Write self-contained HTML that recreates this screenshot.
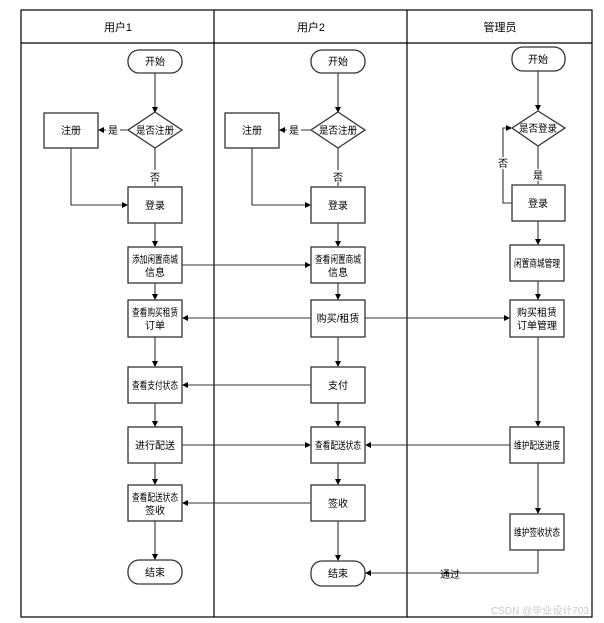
<!DOCTYPE html>
<html><head><meta charset="utf-8"><style>
html,body{margin:0;padding:0;background:#fff;width:604px;height:623px;overflow:hidden}
svg text{font-family:"Liberation Sans","Noto Sans CJK SC",sans-serif;font-size:10px;fill:#000}
</style></head><body>
<svg width="604" height="623" viewBox="0 0 604 623" xmlns="http://www.w3.org/2000/svg">
<defs><marker id="a" markerWidth="6" markerHeight="6" refX="5" refY="3" orient="auto" markerUnits="userSpaceOnUse"><path d="M0,0 L6,3 L0,6 z" fill="#000"/></marker></defs>
<rect x="21" y="10" width="571" height="607" fill="none" stroke="#000" stroke-width="1.2"/>
<line x1="21" y1="43" x2="592" y2="43" stroke="#000" stroke-width="1.2"/>
<line x1="214" y1="10" x2="214" y2="617" stroke="#000" stroke-width="1.2"/>
<line x1="407" y1="10" x2="407" y2="617" stroke="#000" stroke-width="1.2"/>
<g text-anchor="middle"><text x="118" y="31" style="font-size:11px">用户1</text><text x="311" y="31" style="font-size:11px">用户2</text><text x="500" y="31" style="font-size:11px">管理员</text></g>

<g fill="none" stroke="#333" stroke-width="1.1">
<line x1="155" y1="73" x2="155" y2="112" marker-end="url(#a)"/>
<line x1="128" y1="130" x2="99" y2="130" marker-end="url(#a)"/>
<line x1="155" y1="148" x2="155" y2="186"/>
<polyline points="71,148 71,205 127,205" marker-end="url(#a)"/>
<line x1="155" y1="223" x2="155" y2="246" marker-end="url(#a)"/>
<line x1="155" y1="283" x2="155" y2="299" marker-end="url(#a)"/>
<line x1="155" y1="337" x2="155" y2="366" marker-end="url(#a)"/>
<line x1="155" y1="403" x2="155" y2="426" marker-end="url(#a)"/>
<line x1="155" y1="463" x2="155" y2="484" marker-end="url(#a)"/>
<line x1="155" y1="521" x2="155" y2="559" marker-end="url(#a)"/>
<line x1="338" y1="73" x2="338" y2="112" marker-end="url(#a)"/>
<line x1="311" y1="130" x2="280" y2="130" marker-end="url(#a)"/>
<line x1="338" y1="148" x2="338" y2="186"/>
<polyline points="252,148 252,205 310,205" marker-end="url(#a)"/>
<line x1="338" y1="223" x2="338" y2="246" marker-end="url(#a)"/>
<line x1="338" y1="283" x2="338" y2="299" marker-end="url(#a)"/>
<line x1="338" y1="337" x2="338" y2="366" marker-end="url(#a)"/>
<line x1="338" y1="403" x2="338" y2="426" marker-end="url(#a)"/>
<line x1="338" y1="463" x2="338" y2="484" marker-end="url(#a)"/>
<line x1="338" y1="521" x2="338" y2="560" marker-end="url(#a)"/>
<line x1="538" y1="71" x2="538" y2="110" marker-end="url(#a)"/>
<line x1="538" y1="146" x2="538" y2="184"/>
<polyline points="512,203 503,203 503,128 511,128" marker-end="url(#a)"/>
<line x1="538" y1="221" x2="538" y2="244" marker-end="url(#a)"/>
<line x1="538" y1="281" x2="538" y2="299" marker-end="url(#a)"/>
<line x1="538" y1="337" x2="538" y2="426" marker-end="url(#a)"/>
<line x1="538" y1="463" x2="538" y2="513" marker-end="url(#a)"/>
<polyline points="538,550 538,573 366,573" marker-end="url(#a)"/>
<line x1="182" y1="265" x2="310" y2="265" marker-end="url(#a)"/>
<line x1="311" y1="318" x2="183" y2="318" marker-end="url(#a)"/>
<line x1="365" y1="318" x2="509" y2="318" marker-end="url(#a)"/>
<line x1="311" y1="385" x2="183" y2="385" marker-end="url(#a)"/>
<line x1="182" y1="445" x2="310" y2="445" marker-end="url(#a)"/>
<line x1="510" y1="445" x2="366" y2="445" marker-end="url(#a)"/>
<line x1="311" y1="503" x2="183" y2="503" marker-end="url(#a)"/>
</g>

<g fill="#fff" stroke="#333" stroke-width="1.3">
<rect x="128" y="50" width="54" height="23" rx="11"/>
<polygon points="155,112 182,130 155,148 128,130"/>
<rect x="44" y="113" width="54" height="35"/>
<rect x="128" y="187" width="54" height="36"/>
<rect x="128" y="247" width="54" height="36"/>
<rect x="128" y="300" width="54" height="37"/>
<rect x="128" y="367" width="54" height="36"/>
<rect x="128" y="427" width="54" height="36"/>
<rect x="128" y="485" width="54" height="36"/>
<rect x="128" y="560" width="54" height="24" rx="11"/>
<rect x="311" y="50" width="54" height="23" rx="11"/>
<polygon points="338,112 365,130 338,148 311,130"/>
<rect x="225" y="113" width="54" height="35"/>
<rect x="311" y="187" width="54" height="36"/>
<rect x="311" y="247" width="54" height="36"/>
<rect x="311" y="300" width="54" height="37"/>
<rect x="311" y="367" width="54" height="36"/>
<rect x="311" y="427" width="54" height="36"/>
<rect x="311" y="485" width="54" height="36"/>
<rect x="311" y="561" width="54" height="25" rx="11"/>
<rect x="512" y="47" width="53" height="24" rx="11"/>
<polygon points="538,111 565,128 538,146 512,128"/>
<rect x="512" y="185" width="53" height="36"/>
<rect x="510" y="245" width="54" height="36"/>
<rect x="510" y="300" width="54" height="37"/>
<rect x="510" y="427" width="54" height="36"/>
<rect x="510" y="514" width="54" height="36"/>
</g>

<g text-anchor="middle">
<text x="155" y="65">开始</text>
<text x="155" y="134" textLength="38" lengthAdjust="spacingAndGlyphs">是否注册</text>
<text x="71" y="134">注册</text>
<text x="155" y="209">登录</text>
<text x="155" y="263" textLength="46" lengthAdjust="spacingAndGlyphs">添加闲置商城</text><text x="155" y="276">信息</text>
<text x="155" y="316" textLength="46" lengthAdjust="spacingAndGlyphs">查看购买租赁</text><text x="155" y="329">订单</text>
<text x="155" y="389" textLength="46" lengthAdjust="spacingAndGlyphs">查看支付状态</text>
<text x="155" y="449">进行配送</text>
<text x="155" y="501" textLength="46" lengthAdjust="spacingAndGlyphs">查看配送状态</text><text x="155" y="514">签收</text>
<text x="155" y="576">结束</text>
<text x="338" y="65">开始</text>
<text x="338" y="134" textLength="38" lengthAdjust="spacingAndGlyphs">是否注册</text>
<text x="252" y="134">注册</text>
<text x="338" y="209">登录</text>
<text x="338" y="263" textLength="46" lengthAdjust="spacingAndGlyphs">查看闲置商城</text><text x="338" y="276">信息</text>
<text x="338" y="322">购买/租赁</text>
<text x="338" y="389">支付</text>
<text x="338" y="449" textLength="46" lengthAdjust="spacingAndGlyphs">查看配送状态</text>
<text x="338" y="507">签收</text>
<text x="338" y="577">结束</text>
<text x="538" y="63">开始</text>
<text x="538" y="132" textLength="38" lengthAdjust="spacingAndGlyphs">是否登录</text>
<text x="538" y="207">登录</text>
<text x="537" y="267" textLength="46" lengthAdjust="spacingAndGlyphs">闲置商城管理</text>
<text x="537" y="316">购买租赁</text><text x="537" y="329">订单管理</text>
<text x="537" y="449" textLength="46" lengthAdjust="spacingAndGlyphs">维护配送进度</text>
<text x="537" y="536" textLength="46" lengthAdjust="spacingAndGlyphs">维护签收状态</text>
</g>

<rect x="148" y="170" width="14" height="12" fill="#fff"/>
<text x="155" y="181" text-anchor="middle">否</text>
<rect x="331" y="170" width="14" height="12" fill="#fff"/>
<text x="338" y="181" text-anchor="middle">否</text>
<rect x="531" y="169" width="14" height="12" fill="#fff"/>
<text x="538" y="179" text-anchor="middle">是</text>
<rect x="497" y="157" width="12" height="12" fill="#fff"/>
<text x="503" y="167" text-anchor="middle">否</text>
<rect x="106" y="124" width="14" height="12" fill="#fff"/>
<text x="113" y="134" text-anchor="middle">是</text>
<rect x="287" y="124" width="14" height="12" fill="#fff"/>
<text x="294" y="134" text-anchor="middle">是</text>
<text x="450" y="578" text-anchor="middle">通过</text>
<text x="540" y="614" text-anchor="middle" style="font-size:10px;fill:#c8c8c8">CSDN @毕业设计703</text>
</svg>
</body></html>
